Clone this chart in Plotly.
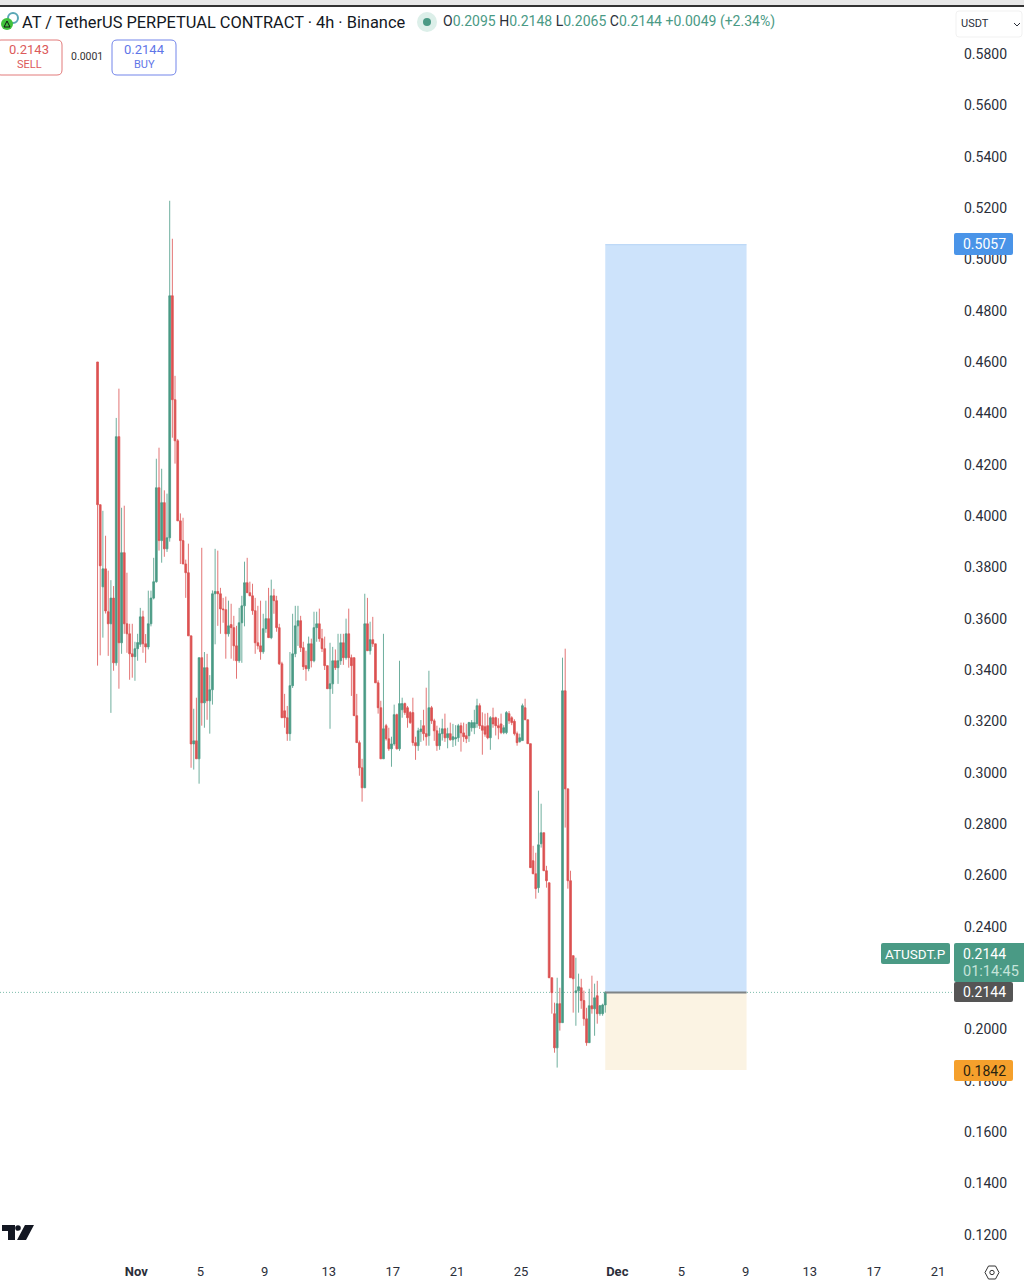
import pandas as pd
import plotly.graph_objects as go

# ---------- data ----------
candle_start = "2025-10-29 14:00"
opens = [
 .4600,.4044,.3724,.3794,.3627,.3580,.3680,.3428,.4309,.3506,
 .3857,.3580,.3541,.3463,.3452,.3483,.3500,.3607,.3502,.3490,
 .3580,.3680,.3744,.4110,.3904,.4052,.3872,.3915,.4858,.4453,
 .4293,.3981,.3904,.3813,.3779,.3533,.3112,.3124,.3054,.3448,
 .3272,.3409,.3280,.3323,.3697,.3706,.3697,.3638,.3635,.3541,
 .3577,.3565,.3494,.3436,.3584,.3650,.3740,.3701,.3689,.3631,
 .3506,.3494,.3471,.3561,.3600,.3526,.3689,.3670,.3565,.3424,
 .3241,.3214,.3152,.3339,.3463,.3572,.3592,.3487,.3417,.3405,
 .3502,.3436,.3565,.3580,.3522,.3483,.3417,.3327,.3346,.3436,
 .3409,.3436,.3506,.3448,.3541,.3448,.3448,.3222,.3117,.3019,
 .2941,.3580,.3475,.3518,.3502,.3350,.3253,.3054,.3183,.3132,
 .3093,.3112,.3226,.3093,.3245,.3269,.3253,.3234,.3234,.3117,
 .3105,.3160,.3183,.3152,.3144,.3253,.3202,.3163,.3105,.3152,
 .3171,.3136,.3152,.3128,.3132,.3136,.3183,.3155,.3144,.3144,
 .3175,.3175,.3191,.3261,.3183,.3179,.3183,.3136,.3214,.3214,
 .3183,.3190,.3156,.3156,.3230,.3214,.3200,.3152,.3121,.3125,
 .3253,.3206,.3113,.2657,.2606,.2552,.2723,.2766,.2618,.2571,
 .2201,.2061,.1928,.2100,.2026,.3319,.2937,.2579,.2287,.2143,
 .2150,.2162,.2112,.2041,.1948,.2092,.2080,.2131,.2061,.2061,
 .2095]
highs = [
 .4600,.4044,.4020,.3923,.3787,.3750,.3727,.4382,.4496,.4032,
 .4040,.3779,.3580,.3580,.3510,.3541,.3642,.3631,.3540,.3709,
 .3709,.3837,.4223,.4266,.4184,.4100,.4087,.5228,.5080,.4546,
 .4300,.4010,.3993,.3830,.3892,.3533,.3249,.3292,.3448,.3876,
 .3470,.3463,.3380,.3710,.3872,.3865,.3720,.3681,.3686,.3670,
 .3658,.3611,.3572,.3642,.3689,.3822,.3837,.3744,.3736,.3681,
 .3650,.3670,.3619,.3670,.3720,.3752,.3716,.3689,.3580,.3432,
 .3307,.3260,.3470,.3619,.3650,.3650,.3611,.3510,.3475,.3530,
 .3522,.3627,.3627,.3639,.3560,.3530,.3417,.3506,.3490,.3480,
 .3541,.3541,.3541,.3600,.3639,.3460,.3448,.3307,.3125,.3054,
 .3697,.3681,.3588,.3607,.3502,.3360,.3280,.3541,.3190,.3175,
 .3140,.3265,.3230,.3436,.3292,.3273,.3260,.3240,.3292,.3140,
 .3175,.3205,.3245,.3331,.3397,.3260,.3210,.3183,.3175,.3210,
 .3230,.3175,.3195,.3190,.3185,.3190,.3195,.3195,.3190,.3198,
 .3205,.3245,.3288,.3270,.3235,.3230,.3233,.3220,.3253,.3218,
 .3212,.3230,.3185,.3240,.3240,.3220,.3208,.3160,.3152,.3269,
 .3288,.3206,.3113,.2715,.2688,.2930,.2879,.2766,.2637,.2571,
 .2201,.2104,.2201,.2162,.3448,.3483,.2937,.2618,.2287,.2279,
 .2217,.2197,.2151,.2084,.2158,.2209,.2178,.2189,.2095,.2100,
 .2148]
lows = [
 .3417,.3457,.3526,.3620,.3455,.3233,.3397,.3417,.3327,.3463,
 .3541,.3467,.3362,.3370,.3358,.3436,.3490,.3467,.3428,.3480,
 .3570,.3675,.3740,.3865,.3818,.3841,.3860,.3900,.4305,.4204,
 .3981,.3813,.3813,.3681,.3533,.3019,.3012,.3054,.2957,.3183,
 .3175,.3206,.3152,.3265,.3500,.3572,.3541,.3584,.3444,.3530,
 .3444,.3436,.3366,.3428,.3428,.3570,.3700,.3689,.3615,.3463,
 .3480,.3440,.3463,.3545,.3526,.3520,.3619,.3549,.3420,.3214,
 .3175,.3124,.3124,.3330,.3450,.3494,.3470,.3400,.3358,.3395,
 .3410,.3430,.3510,.3510,.3470,.3400,.3327,.3171,.3307,.3400,
 .3346,.3420,.3420,.3440,.3409,.3299,.3222,.3117,.2988,.2887,
 .2941,.3475,.3460,.3490,.3350,.3230,.3054,.3054,.3125,.3085,
 .3023,.3105,.3090,.3085,.3214,.3225,.3175,.3190,.3105,.3050,
 .3085,.3120,.3125,.3105,.3105,.3190,.3124,.3085,.3089,.3125,
 .3120,.3095,.3125,.3100,.3105,.3120,.3082,.3120,.3115,.3120,
 .3160,.3150,.3175,.3170,.3070,.3140,.3130,.3089,.3175,.3145,
 .3130,.3150,.3150,.3150,.3190,.3185,.3145,.3105,.3117,.3125,
 .3206,.3113,.2630,.2606,.2509,.2532,.2708,.2618,.2552,.2201,
 .2061,.1909,.1851,.1995,.2026,.2786,.2548,.2201,.2065,.2014,
 .2065,.2080,.2014,.1936,.1948,.2061,.1975,.2022,.2053,.2053,
 .2065]
closes = [
 .4044,.3806,.3794,.3630,.3580,.3680,.3428,.4309,.3506,.3857,
 .3580,.3541,.3463,.3452,.3483,.3507,.3607,.3502,.3490,.3580,
 .3680,.3744,.4110,.3904,.4052,.3872,.3915,.4858,.4453,.4293,
 .3981,.3904,.3813,.3779,.3533,.3112,.3124,.3054,.3448,.3272,
 .3409,.3280,.3323,.3697,.3706,.3697,.3638,.3635,.3541,.3572,
 .3565,.3494,.3436,.3584,.3650,.3740,.3701,.3689,.3631,.3506,
 .3494,.3471,.3561,.3600,.3526,.3689,.3670,.3565,.3424,.3214,
 .3214,.3152,.3339,.3463,.3572,.3592,.3487,.3413,.3405,.3502,
 .3436,.3565,.3580,.3522,.3483,.3417,.3327,.3346,.3436,.3409,
 .3436,.3506,.3448,.3541,.3448,.3417,.3222,.3117,.3019,.2941,
 .3580,.3475,.3518,.3502,.3350,.3253,.3054,.3171,.3132,.3093,
 .3112,.3226,.3093,.3269,.3269,.3234,.3214,.3195,.3117,.3105,
 .3163,.3170,.3152,.3140,.3253,.3202,.3163,.3105,.3152,.3171,
 .3136,.3152,.3128,.3140,.3136,.3183,.3155,.3140,.3132,.3195,
 .3195,.3195,.3261,.3183,.3165,.3150,.3136,.3214,.3190,.3183,
 .3175,.3156,.3175,.3234,.3202,.3195,.3152,.3117,.3136,.3261,
 .3206,.3113,.2630,.2606,.2548,.2719,.2766,.2618,.2579,.2201,
 .2143,.1928,.2100,.2026,.3319,.2937,.2579,.2201,.2197,.2150,
 .2166,.2112,.2041,.1948,.2092,.2080,.2123,.2061,.2092,.2095,
 .2144]

price_ticks = [.12,.14,.16,.18,.20,.22,.24,.26,.28,.30,.32,.34,.36,.38,.40,.42,.44,.46,.48,.50,.52,.54,.56,.58]
date_ticks = ["2025-11-01","2025-11-05","2025-11-09","2025-11-13","2025-11-17","2025-11-21","2025-11-25",
              "2025-12-01","2025-12-05","2025-12-09","2025-12-13","2025-12-17","2025-12-21"]
date_labels = ["<b>Nov</b>","5","9","13","17","21","25","<b>Dec</b>","5","9","13","17","21"]

entry_price = 0.2144
target_price = 0.5057
stop_price = 0.1842
tool_start = "2025-11-30 06:00"
tool_end = "2025-12-09 01:30"

title_text = "AT / TetherUS PERPETUAL CONTRACT · 4h · Binance"
ohlc_labels = ["O", "H", "L", "C"]
ohlc_values = ["0.2095", "0.2148", "0.2065", "0.2144"]
change_text = "+0.0049 (+2.34%)"

# ---------- style ----------
W, H = 1024, 1280
ML, MR, MT, MB = 0, 71, 8, 24
GREEN = "#4a9a85"
RED = "#dc5252"
TXT = "#2a2e39"
FONT = "Roboto"
PW, PH = W - ML - MR, H - MT - MB


def fx(x):
    return (x - ML) / PW


def fy(y):
    return (H - MB - y) / PH


shapes, annotations = [], []


def text(x, y, s, size=13, color=TXT, anchor="center"):
    annotations.append(dict(xref="paper", yref="paper", x=fx(x), y=fy(y), text=s, showarrow=False,
                            xanchor=anchor, yanchor="middle", font=dict(family=FONT, size=size, color=color)))


def rounded(x0, y0, x1, y1, r):
    return (f"M{fx(x0+r)},{fy(y0)} L{fx(x1-r)},{fy(y0)} Q{fx(x1)},{fy(y0)} {fx(x1)},{fy(y0+r)} "
            f"L{fx(x1)},{fy(y1-r)} Q{fx(x1)},{fy(y1)} {fx(x1-r)},{fy(y1)} "
            f"L{fx(x0+r)},{fy(y1)} Q{fx(x0)},{fy(y1)} {fx(x0)},{fy(y1-r)} "
            f"L{fx(x0)},{fy(y0+r)} Q{fx(x0)},{fy(y0)} {fx(x0+r)},{fy(y0)} Z")


def box(x0, y0, x1, y1, r=2, fill="rgba(0,0,0,0)", line=None, lw=1):
    shapes.append(dict(type="path", xref="paper", yref="paper", path=rounded(x0, y0, x1, y1, r), fillcolor=fill,
                       line=dict(color=line or fill, width=lw if line else 0), layer="above"))


def poly(points, fill=None, line=None, lw=1, close=True):
    p = "M" + " L".join(f"{fx(a)},{fy(b)}" for a, b in points) + (" Z" if close else "")
    shapes.append(dict(type="path", xref="paper", yref="paper", path=p, fillcolor=fill or "rgba(0,0,0,0)",
                       line=dict(color=line or "rgba(0,0,0,0)", width=lw if line else 0), layer="above"))


def circle(cx, cy, r, fill=None, line=None, lw=1):
    shapes.append(dict(type="circle", xref="paper", yref="paper", x0=fx(cx - r), x1=fx(cx + r), y0=fy(cy + r), y1=fy(cy - r),
                       fillcolor=fill or "rgba(0,0,0,0)", line=dict(color=line or "rgba(0,0,0,0)", width=lw if line else 0),
                       layer="above"))


# position tool (drawn from the price levels)
shapes += [
    dict(type="rect", xref="x", yref="y", x0=tool_start, x1=tool_end, y0=entry_price, y1=target_price,
         fillcolor="#cde3fb", line=dict(width=0), layer="below"),
    dict(type="rect", xref="x", yref="y", x0=tool_start, x1=tool_end, y0=stop_price, y1=entry_price,
         fillcolor="#fbf3e3", line=dict(width=0), layer="below"),
    dict(type="line", xref="paper", yref="y", x0=0, x1=1, y0=entry_price, y1=entry_price,
         line=dict(color="#7dbcab", width=1, dash="1px,2px"), layer="below"),
    dict(type="line", xref="x", yref="y", x0=tool_start, x1=tool_end, y0=entry_price, y1=entry_price,
         line=dict(color="#7f8487", width=2), layer="above"),
    dict(type="line", xref="x", yref="y", x0=tool_start, x1=tool_end, y0=target_price, y1=target_price,
         line=dict(color="#b5d4f6", width=1), layer="above"),
]

# window top edge
shapes += [
    dict(type="rect", xref="paper", yref="paper", x0=0, x1=W / PW, y0=fy(0), y1=fy(5), fillcolor="#e8e8e8",
         line=dict(width=0), layer="above"),
    dict(type="rect", xref="paper", yref="paper", x0=0, x1=W / PW, y0=fy(5), y1=fy(7), fillcolor="#333333",
         line=dict(width=0), layer="above"),
]

# header
circle(13, 18, 5, line="#5aa7b5", lw=2)
circle(7, 24, 6, fill="#42c23c")
poly([(7, 21), (10, 27), (4, 27)], line="#111111", lw=1)
text(20, 23, title_text, size=16.4, color="#131722", anchor="left")
circle(427, 22, 10, fill="#dcefe9")
circle(427, 22, 4, fill=GREEN)
ohlc = " ".join(f"<span style='color:{TXT}'>{a}</span><span style='color:{GREEN}'>{b}</span>"
                for a, b in zip(ohlc_labels, ohlc_values))
text(441, 22, f"{ohlc} <span style='color:{GREEN}'>{change_text}</span>", size=14, anchor="left")

# sell / buy
box(-4, 40, 62, 75, r=5, fill="#ffffff", line="#e27a7a")
box(112, 40, 176, 75, r=5, fill="#ffffff", line="#7285ea")
text(29, 50, "0.2143", size=13, color="#dc5a5a")
text(29, 65, "SELL", size=11, color="#dc5a5a")
text(87, 57, "0.0001", size=10.5, color="#333333")
text(144, 50, "0.2144", size=13, color="#5f76e8")
text(144, 65, "BUY", size=11, color="#5f76e8")

# currency selector
box(956, 11, 1022, 37, r=3, fill="#ffffff", line="#f1f1f1")
text(959, 24, "USDT", size=11, color=TXT, anchor="left")
poly([(1014, 23), (1017, 26), (1020, 23)], line=TXT, lw=1, close=False)

# price labels
box(954, 233, 1013, 255, fill="#4a94e8")
text(961, 244, "0.5057", size=14, color="#ffffff", anchor="left")
box(881, 943, 950, 964, fill=GREEN)
text(915, 954, "ATUSDT.P", size=13.5, color="#ffffff")
box(954, 943, 1030, 982, fill=GREEN)
text(961, 954, "0.2144", size=14, color="#ffffff", anchor="left")
text(961, 971, "01:14:45", size=14.5, color="#c5e4da", anchor="left")
box(954, 982, 1013, 1002, fill="#555555")
text(961, 992, "0.2144", size=14, color="#ffffff", anchor="left")
box(954, 1060, 1013, 1081, fill="#f5a02c")
text(961, 1071, "0.1842", size=14, color="#2a2310", anchor="left")

# TradingView logo
poly([(2, 1225), (15, 1225), (15, 1240), (8, 1240), (8, 1231), (2, 1231)], fill="#131722")
circle(18, 1228, 2.8, fill="#131722")
poly([(25, 1225), (34, 1225), (26, 1240), (17, 1240)], fill="#131722")

# settings icon
poly([(985, 1272.5), (988.5, 1266), (995.5, 1266), (999, 1272.5), (995.5, 1279), (988.5, 1279)], line="#333333", lw=1)
circle(992, 1272.5, 2.2, line="#333333", lw=1)

dates = pd.date_range(candle_start, periods=len(closes), freq="4h")
fig = go.Figure(go.Candlestick(
    x=dates, open=opens, high=highs, low=lows, close=closes, whiskerwidth=0,
    increasing=dict(line=dict(color=GREEN, width=0.8), fillcolor=GREEN),
    decreasing=dict(line=dict(color=RED, width=0.8), fillcolor=RED),
    showlegend=False,
))
fig.update_layout(
    width=W, height=H, margin=dict(l=ML, r=MR, t=MT, b=MB, autoexpand=False),
    paper_bgcolor="#ffffff", plot_bgcolor="#ffffff", boxgap=0.05,
    shapes=shapes, annotations=annotations, showlegend=False, hovermode=False,
    font=dict(family=FONT, color=TXT),
    xaxis=dict(type="date", range=["2025-10-23 12:00", "2025-12-21 22:30"], tickmode="array",
               tickvals=date_ticks, ticktext=date_labels, tickangle=0, showgrid=False, zeroline=False,
               showline=False, ticks="", ticklabelstandoff=6, tickfont=dict(family=FONT, size=13, color=TXT),
               rangeslider=dict(visible=False)),
    yaxis=dict(side="right", range=[0.1117, 0.5979], tickmode="array", tickvals=price_ticks,
               ticktext=[f"{v:.4f}" for v in price_ticks], showgrid=False, zeroline=False, showline=False,
               ticks="", ticklabelstandoff=10, tickfont=dict(family=FONT, size=14, color=TXT)),
)
fig.write_html("out.html", config=dict(displayModeBar=False),
               post_script="document.body.style.margin='0';document.body.style.overflow='hidden';")
